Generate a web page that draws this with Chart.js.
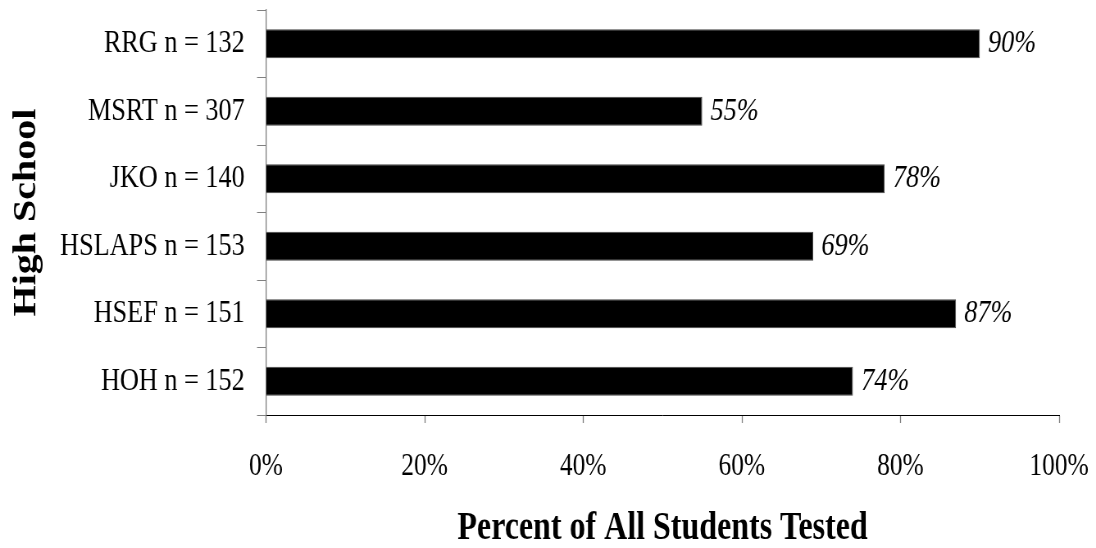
<!DOCTYPE html>
<html>
<head>
<title>High School - Percent of All Students Tested</title>
<script src="https://cdn.jsdelivr.net/npm/chart.js@4.4.1/dist/chart.umd.min.js"></script>
<style>
html, body { margin:0; padding:0; overflow:hidden; background:#fff; }
/* the original chart has tall, narrow lettering: draw wider, squeeze on screen */
#wrap { position:relative; width:1337px; height:548px; transform:scaleX(0.81975); transform-origin:0 0; }
</style>
</head>
<body>

<div id="wrap">
	<canvas id="myChart"></canvas>
</div>

<script>
var schools = ['RRG n = 132', 'MSRT n = 307', 'JKO n = 140', 'HSLAPS n = 153', 'HSEF n = 151', 'HOH n = 152'];
var percents = [90, 55, 78, 69, 87, 74];
var xTicks = [0, 20, 40, 60, 80, 100];

var serif = '"Liberation Serif", "Times New Roman", serif';

// italic value text at the end of each bar
var barValues = {
  id: 'barValues',
  afterDatasetsDraw: function(chart) {
    var ctx = chart.ctx;
    var meta = chart.getDatasetMeta(0);
    ctx.save();
    ctx.font = 'italic 32px ' + serif;
    ctx.fillStyle = '#000';
    ctx.textAlign = 'left';
    ctx.textBaseline = 'middle';
    meta.data.forEach(function(bar, i) {
      ctx.fillText(percents[i] + '%', bar.x + 10, bar.y);
    });
    ctx.restore();
  }
};

var ctx = document.getElementById('myChart').getContext('2d');
var chart = new Chart(ctx, {
  type: 'bar',
  data: {
    labels: schools,
    datasets: [{
      data: percents,
      backgroundColor: '#000',
      borderColor: '#444',
      borderWidth: 1,
      barPercentage: 0.43,
      categoryPercentage: 1
    }]
  },
  plugins: [barValues],
  options: {
    indexAxis: 'y',
    responsive: true,
    maintainAspectRatio: false,
    animation: false,
    layout: { padding: { top: 10, right: 45, bottom: 0, left: 0 } },
    plugins: { legend: { display: false }, tooltip: { enabled: false } },
    scales: {
      x: {
        min: 0,
        max: 100,
        afterBuildTicks: function(scale) {
          scale.ticks = xTicks.map(function(v) { return { value: v }; });
        },
        afterFit: function(scale) {
          scale.height = 133;
          scale.paddingLeft = 0;
          scale.paddingRight = 0;
        },
        border: { display: true, color: '#000', width: 1 },
        grid: { drawOnChartArea: false, drawTicks: true, tickLength: 8, color: '#808080', tickWidth: 1.3 },
        ticks: {
          color: '#000',
          font: { family: serif, size: 31 },
          padding: 25,
          maxRotation: 0,
          autoSkip: false,
          callback: function(v) { return v + '%'; }
        },
        title: {
          display: true,
          text: 'Percent of All Students Tested',
          color: '#000',
          font: { family: serif, size: 39, weight: 'bold', lineHeight: 1 },
          padding: { top: 0, bottom: 0 }
        }
      },
      y: {
        afterFit: function(scale) {
          scale.width = 324.5;
          scale.paddingTop = 0;
          scale.paddingBottom = 0;
        },
        border: { display: true, color: '#808080', width: 1.3 },
        grid: { offset: true, drawOnChartArea: false, drawTicks: true, tickLength: 11, color: '#808080' },
        ticks: {
          color: '#000',
          font: { family: serif, size: 32 },
          padding: 15,
          autoSkip: false
        },
        title: {
          display: true,
          text: 'High School',
          color: '#000',
          font: { family: serif, size: 40, weight: 'bold' },
          padding: { top: 9, bottom: 0 }
        }
      }
    }
  }
});
</script>
</body>
</html>
